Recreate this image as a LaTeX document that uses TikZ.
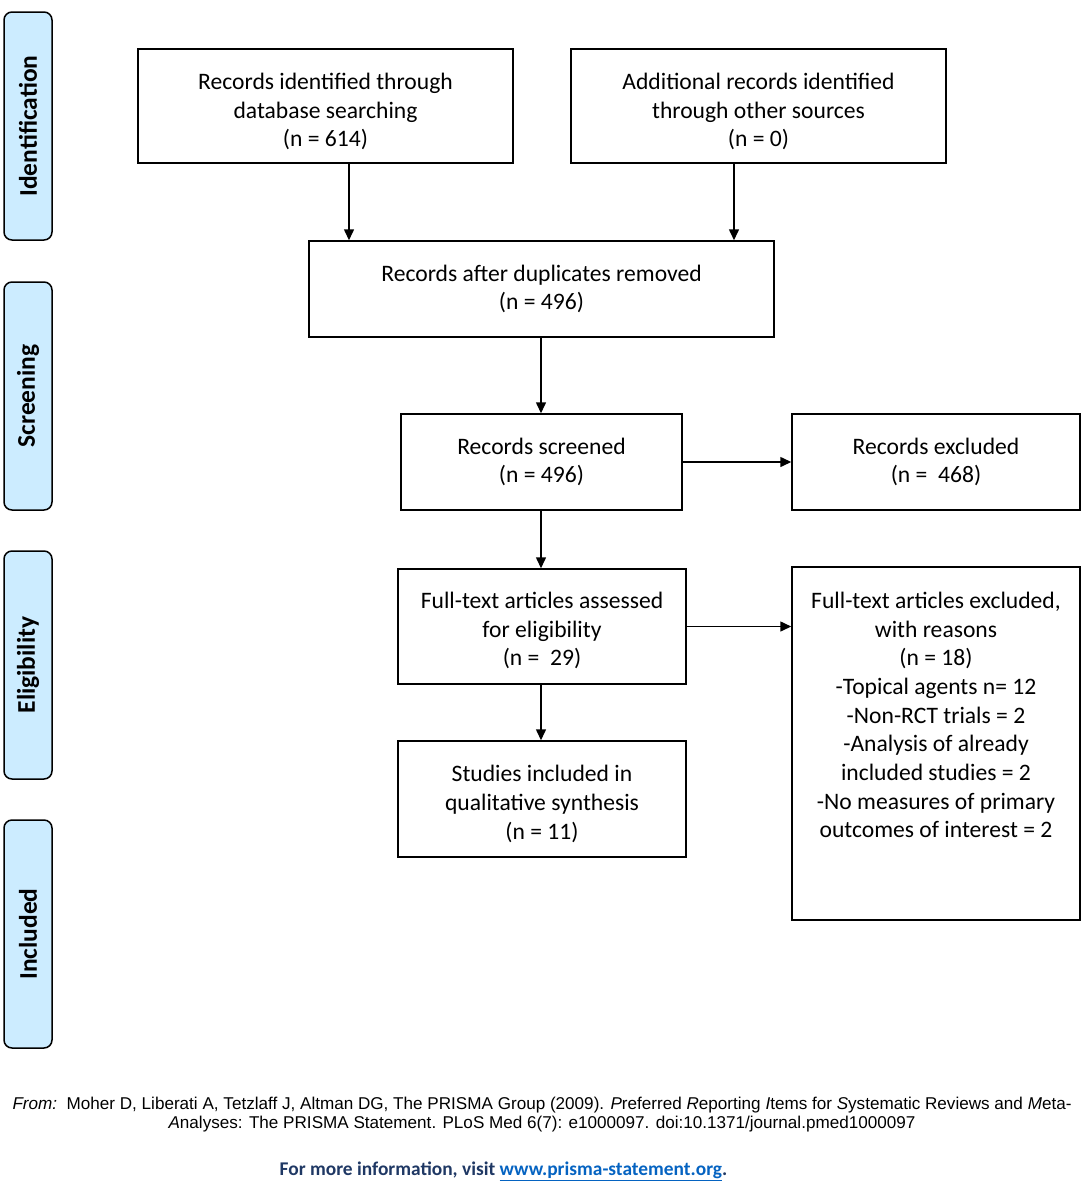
\documentclass[tikz,border=0pt]{standalone}
\usepackage{fontspec}
\setmainfont{Carlito}
\newfontfamily\arial{Liberation Sans}
\usetikzlibrary{arrows.meta}
\definecolor{sidefill}{HTML}{CCECFF}
\definecolor{navy}{HTML}{1F3864}
\definecolor{linkblue}{HTML}{0563C1}
\begin{document}
\begin{tikzpicture}[x=1pt,y=-1pt,
  boxfont/.style={font=\fontsize{23.6}{28.7}\selectfont},
  box/.style={draw,line width=1.5pt,align=center,inner sep=0pt,boxfont},
  plain/.style={align=center,inner sep=0pt,boxfont},
  side/.style={draw,line width=1.5pt,fill=sidefill,rounded corners=8pt,minimum width=48pt,minimum height=228pt,inner sep=0pt},
  sidetext/.style={rotate=90,font=\fontsize{25.5}{28}\selectfont\bfseries},
  arr/.style={line width=1.5pt,-{Triangle[length=11pt,width=10pt]}}]
\useasboundingbox (0,0) rectangle (1084,1181);
% side labels
\node[side] (s1) at (28,126) {};
\node[sidetext] (t1) at (s1.center) {Identification};
\node[side] (s2) at (28,396) {};
\node[sidetext] (t2) at (s2.center) {Screening};
\node[side] (s3) at (28,665) {};
\node[sidetext] (t3) at (s3.center) {Eligibility};
\node[side] (s4) at (28,934) {};
\node[sidetext] (t4) at (s4.center) {Included};
% boxes
\node[box,minimum width=375pt,minimum height=114pt] (A) at (325.5,106) {};
\node[plain] (At) at (325.5,111.5) {Records identified through\\database searching\\(n = 614)};
\node[box,minimum width=375pt,minimum height=114pt] (B) at (758.5,106) {};
\node[plain] (Bt) at (758.5,111.5) {Additional records identified\\through other sources\\(n = 0)};
\node[box,minimum width=465pt,minimum height=96pt] (C) at (541.5,289) {};
\node[plain] (Ct) at (541.5,289) {Records after duplicates removed\\(n = 496)};
\node[box,minimum width=281pt,minimum height=96pt] (D) at (541.5,462) {};
\node[plain] (Dt) at (541.5,462) {Records screened\\(n = 496)};
\node[box,minimum width=288pt,minimum height=96pt] (E) at (936,462) {};
\node[plain] (Et) at (936,462) {Records excluded\\(n =\ \ 468)};
\node[box,minimum width=288pt,minimum height=115pt] (F) at (542,626.5) {};
\node[plain] (Ft) at (542,630.5) {Full-text articles assessed\\for eligibility\\(n =\ \ 29)};
\node[box,minimum width=288pt,minimum height=353pt] (G) at (936,743.5) {};
\node[plain] (Gt) at (936,715) {Full-text articles excluded,\\with reasons\\(n = 18)\\-Topical agents n= 12\\-Non-RCT trials = 2\\-Analysis of already\\included studies = 2\\-No measures of primary\\outcomes of interest = 2};
\node[box,minimum width=288pt,minimum height=116pt] (H) at (542,799) {};
\node[plain] (Ht) at (542,804) {Studies included in\\qualitative synthesis\\(n = 11)};
% arrows
\draw[arr] (A.south -| 349,0) -- (C.north -| 349,0);
\draw[arr] (B.south -| 734,0) -- (C.north -| 734,0);
\draw[arr] (C.south -| 541,0) -- (D.north -| 541,0);
\draw[arr] (D.east) -- (E.west);
\draw[arr] (D.south -| 541,0) -- (F.north -| 541,0);
\draw[arr] (F.east) -- (F.east -| G.west);
\draw[arr] (F.south -| 541,0) -- (H.north -| 541,0);
% footer
\node[align=center,font=\arial\fontsize{17.1}{19.5}\selectfont] (foot) at (542,1114.5) {\textit{From:}\ \ Moher D, Liberati A, Tetzlaff J, Altman DG, The PRISMA Group (2009). \textit{P}referred \textit{R}eporting \textit{I}tems for \textit{S}ystematic Reviews and \textit{M}eta-\\\textit{A}nalyses: The PRISMA Statement. PLoS Med 6(7): e1000097. doi:10.1371/journal.pmed1000097};
\node[font=\fontsize{19.4}{22}\selectfont\bfseries,text=navy] (info) at (503.5,1171) {For more information, visit \textcolor{linkblue}{\underline{www.prisma-statement.org}}.};
\end{tikzpicture}
\end{document}
